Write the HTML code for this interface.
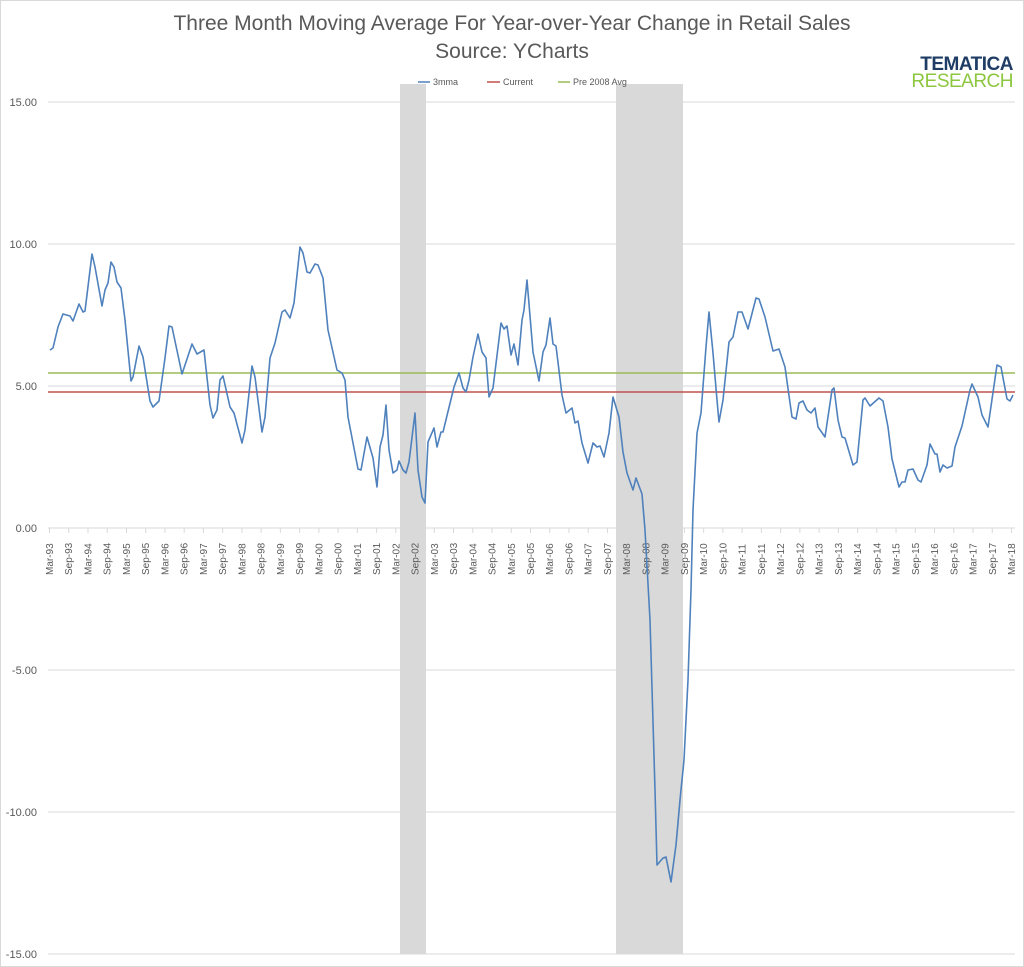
<!DOCTYPE html>
<html><head><meta charset="utf-8"><style>
body{margin:0;background:#fff}
svg{display:block;font-family:"Liberation Sans",sans-serif}
</style></head><body>
<svg width="1024" height="967" viewBox="0 0 1024 967" xmlns="http://www.w3.org/2000/svg">
<rect x="0.5" y="0.5" width="1023" height="966" fill="#fff" stroke="#d9d9d9"/>
<text x="512" y="30" text-anchor="middle" font-size="21" fill="#595959">Three Month Moving Average For Year-over-Year Change in Retail Sales</text>
<text x="512" y="58" text-anchor="middle" font-size="21" fill="#595959">Source:  YCharts</text>
<text x="1013" y="70" text-anchor="end" font-size="19" font-weight="bold" fill="#1f3d64" letter-spacing="-0.5">TEMATICA</text>
<text x="1013" y="87" text-anchor="end" font-size="19" fill="#8dc63f" letter-spacing="-0.5">RESEARCH</text>
<rect x="400" y="84" width="26" height="870" fill="#d9d9d9"/>
<rect x="616" y="84" width="67" height="870" fill="#d9d9d9"/>
<g stroke="#d9d9d9" stroke-width="1">
<line x1="48" x2="1015" y1="102" y2="102"/><line x1="48" x2="1015" y1="244" y2="244"/><line x1="48" x2="1015" y1="386" y2="386"/><line x1="48" x2="1015" y1="528" y2="528"/><line x1="48" x2="1015" y1="670" y2="670"/><line x1="48" x2="1015" y1="812" y2="812"/><line x1="48" x2="1015" y1="954" y2="954"/>
</g>
<g font-size="11" fill="#595959" text-anchor="end">
<text x="37" y="106">15.00</text><text x="37" y="248">10.00</text><text x="37" y="390">5.00</text><text x="37" y="532">0.00</text><text x="37" y="674">-5.00</text><text x="37" y="816">-10.00</text><text x="37" y="958">-15.00</text>
</g>
<g id="xl" font-size="10" fill="#595959"></g>
<line x1="48" x2="1015" y1="373" y2="373" stroke="#9bbb59" stroke-width="1.5"/>
<line x1="48" x2="1015" y1="392" y2="392" stroke="#c0504d" stroke-width="1.5"/>
<polyline fill="none" stroke="#4f81bd" stroke-width="1.6" stroke-linejoin="round" points="50,350 53,348 58,327 63,314 70,316 73,321 79,304 83,312 85,311 92,254 95,267 102,306 105,290 108,283 111,262 114,267 117,282 121,288 125,320 131,381 133,377 139,346 143,357 150,401 153,407 159,401 165,358 169,326 172,327 182,374 192,344 197,354 204,350 210,405 213,418 217,410 220,380 223,376 230,407 234,413 242,443 245,430 252,366 255,377 262,432 265,417 270,358 275,343 282,312 285,310 290,318 294,303 300,247 303,253 307,272 310,273 315,264 318,265 323,278 328,330 337,370 342,373 345,380 348,417 358,469 361,470 367,437 373,458 377,487 380,447 383,435 386,405 389,450 393,473 397,470 399,461 403,470 406,473 409,462 415,413 418,470 422,497 425,503 428,442 434,428 437,447 441,432 443,432 454,387 459,373 463,388 466,392 469,380 473,357 478,334 482,352 486,358 489,397 493,388 501,323 504,329 507,326 511,355 514,344 518,365 522,320 524,310 527,280 533,352 539,381 543,352 546,345 550,318 553,344 556,346 562,395 566,413 572,408 575,423 578,421 582,443 588,463 593,443 597,447 600,446 604,457 609,433 613,397 619,417 623,452 627,473 633,490 636,478 642,494 645,530 650,620 655,790 657,865 663,858 666,857 671,882 676,845 680,800 684,760 688,680 691,590 693,510 697,433 701,413 706,347 709,312 713,353 717,400 719,422 723,400 729,342 733,337 738,312 742,312 748,329 756,298 759,299 765,317 773,351 779,349 785,367 792,417 796,419 799,403 803,401 807,410 811,413 815,408 818,427 825,437 832,390 834,388 838,420 842,437 845,438 853,465 857,462 863,400 865,398 870,406 879,398 883,401 888,427 892,459 899,487 902,482 905,482 908,470 913,469 918,480 921,482 927,465 930,444 935,454 937,454 940,472 943,465 947,468 952,466 955,447 962,426 970,390 972,384 978,397 982,415 988,427 997,365 1001,367 1007,399 1010,401 1013,395"/>
<g font-size="9" fill="#595959">
<line x1="418" x2="430" y1="82" y2="82" stroke="#4f81bd" stroke-width="1.5"/><text x="433" y="85">3mma</text>
<line x1="487" x2="500" y1="82" y2="82" stroke="#c0504d" stroke-width="1.5"/><text x="503" y="85">Current</text>
<line x1="558" x2="570" y1="82" y2="82" stroke="#9bbb59" stroke-width="1.5"/><text x="573" y="85">Pre 2008 Avg</text>
</g>
</svg>
<script>
var g=document.getElementById('xl'),ns='http://www.w3.org/2000/svg';
for(var i=0;i<=50;i++){var x=49.5+i*19.24;var yr=(93+Math.floor(i/2))%100;var s=(i%2?'Sep-':'Mar-')+(yr<10?'0':'')+yr;
var l=document.createElementNS(ns,'line');l.setAttribute('x1',x);l.setAttribute('x2',x);l.setAttribute('y1',528);l.setAttribute('y2',533);l.setAttribute('stroke','#d9d9d9');g.appendChild(l);
var t=document.createElementNS(ns,'text');t.setAttribute('transform','translate('+(x+3.5)+',575) rotate(-90)');t.textContent=s;g.appendChild(t);}
</script>
</body></html>
